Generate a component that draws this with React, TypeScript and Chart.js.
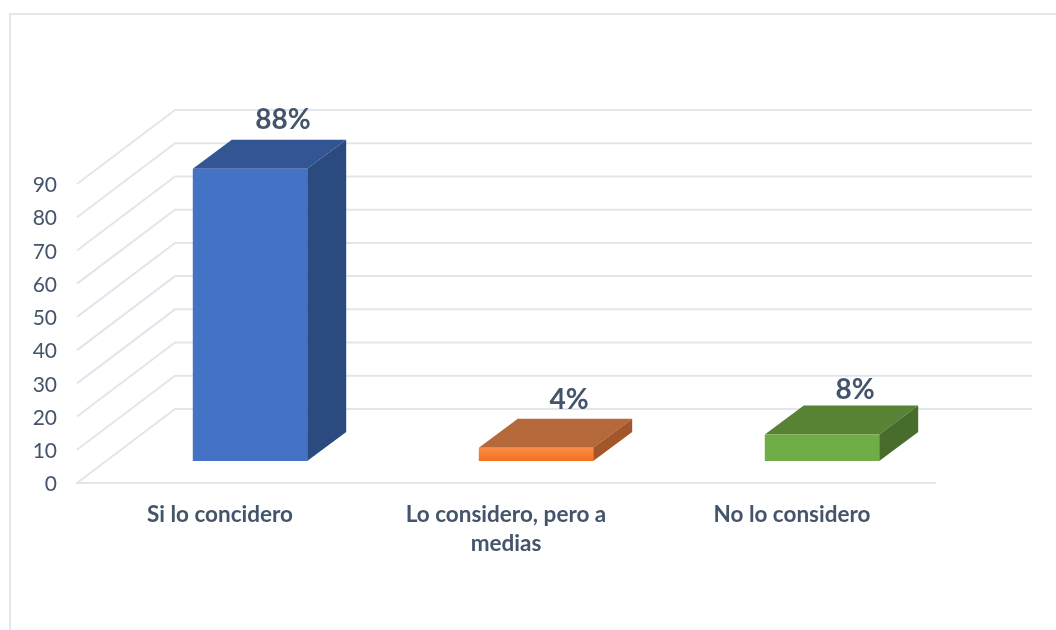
import React, { useEffect, useRef } from "react";
import { Chart, registerables } from "chart.js";

Chart.register(...registerables);

const categories: (string | string[])[] = ["Si lo concidero", ["Lo considero, pero a", "medias"], "No lo considero"];
const values = [88, 4, 8];
const valueLabels = ["88%", "4%", "8%"];
const frontColors = ["#4472c4", "#f47b2c", "#70ad47"];
const topColors = ["#335593", "#b5683a", "#588234"];
const sideColors = ["#2b4a80", "#a2562a", "#486c2b"];
const yTicks = [0, 10, 20, 30, 40, 50, 60, 70, 80, 90];

const INK = "#44546a";
const GRID = "#e2e5ec";
const FONT = "Lato, 'Open Sans', sans-serif";
const WALL_DX = 98;
const WALL_DY = -74;
const BAR_DX = 30;
const BAR_DY = -22;
const DEPTH_DX = 39;
const DEPTH_DY = -29;
const LABEL_DX = 33;
const LABEL_DY = [-49, -48, -44];

const face = (ctx: CanvasRenderingContext2D, pts: number[][], fill: string | CanvasGradient) => {
  ctx.beginPath();
  pts.forEach(([x, y], i) => (i ? ctx.lineTo(x, y) : ctx.moveTo(x, y)));
  ctx.closePath();
  ctx.fillStyle = fill;
  ctx.fill();
};

const box3d = {
  id: "box3d",
  beforeDatasetsDraw(chart: any) {
    const { ctx, scales } = chart;
    const { x, y } = scales;
    ctx.save();
    // wall and back-plane grid lines
    ctx.strokeStyle = GRID;
    ctx.lineWidth = 2;
    yTicks.forEach((t) => {
      const py = y.getPixelForValue(t);
      ctx.beginPath();
      ctx.moveTo(x.left, py);
      ctx.lineTo(x.left + WALL_DX, py + WALL_DY);
      ctx.lineTo(x.right + WALL_DX - 1, py + WALL_DY);
      ctx.stroke();
    });
    ctx.restore();

    ctx.save();
    ctx.translate(BAR_DX, BAR_DY);
    // depth faces come from the bar elements that the library laid out
    chart.getDatasetMeta(0).data.forEach((bar: any, i: number) => {
      const { x: cx, y: top, base, width } = bar.getProps(["x", "y", "base", "width"], true);
      const l = cx - width / 2;
      const r = cx + width / 2;
      face(ctx, [[l, top], [r, top], [r + DEPTH_DX, top + DEPTH_DY], [l + DEPTH_DX, top + DEPTH_DY]], topColors[i]);
      face(ctx, [[r, top], [r + DEPTH_DX, top + DEPTH_DY], [r + DEPTH_DX, base + DEPTH_DY], [r, base]], sideColors[i]);
    });
  },
  afterDatasetsDraw(chart: any) {
    const { ctx } = chart;
    ctx.restore();
    ctx.save();
    ctx.font = `bold 28px ${FONT}`;
    ctx.fillStyle = INK;
    ctx.textAlign = "center";
    ctx.textBaseline = "middle";
    chart.getDatasetMeta(0).data.forEach((bar: any, i: number) => {
      const { x: cx, y: top } = bar.getProps(["x", "y"], true);
      ctx.fillText(valueLabels[i], cx + BAR_DX + LABEL_DX, top + BAR_DY + LABEL_DY[i]);
    });
    ctx.restore();
  },
};

export default function App() {
  const ref = useRef<HTMLCanvasElement>(null);
  useEffect(() => {
    const chart = new Chart(ref.current!, {
      type: "bar",
      data: {
        labels: categories as any,
        datasets: [
          {
            data: values,
            clip: false as any,
            categoryPercentage: 1,
            barPercentage: 0.4,
            borderWidth: 0,
            backgroundColor: (c: any) => {
              if (c.dataIndex !== 1 || !c.chart.scales.y) return frontColors[c.dataIndex];
              const s = c.chart.scales.y;
              const g = c.chart.ctx.createLinearGradient(0, s.getPixelForValue(values[1]), 0, s.getPixelForValue(0));
              g.addColorStop(0, "#fb8d45");
              g.addColorStop(1, "#f2701f");
              return g;
            },
          },
        ],
      },
      plugins: [box3d],
      options: {
        animation: false,
        responsive: false,
        devicePixelRatio: 1,
        layout: { padding: { left: 0, top: 184, right: 121, bottom: 0 } },
        plugins: { legend: { display: false }, tooltip: { enabled: false } },
        scales: {
          x: {
            afterFit: (s: any) => { s.height = 147; },
            grid: { display: false, drawTicks: false },
            border: { display: true, color: GRID, width: 2 },
            ticks: {
              color: INK,
              padding: 17,
              maxRotation: 0,
              autoSkip: false,
              font: { family: FONT, size: 22.5, weight: "bold", lineHeight: 1.29 },
            },
          },
          y: {
            min: 0,
            max: 90,
            afterFit: (s: any) => { s.width = 77; },
            afterBuildTicks: (s: any) => { s.ticks = yTicks.map((value) => ({ value })); },
            grid: { display: false, drawTicks: false },
            border: { display: false },
            ticks: { color: INK, padding: 20, labelOffset: 1.5, font: { family: FONT, size: 21 } },
          },
        },
      } as any,
    });
    return () => chart.destroy();
  }, []);
  return (
    <div style={{ position: "absolute", left: 0, top: 0, width: 1056, height: 630, overflow: "hidden", background: "#fff" }}>
      <div style={{ position: "absolute", left: 9, top: 13, width: 1100, height: 700, border: "2px solid #e2e5ec" }} />
      <canvas ref={ref} width={1056} height={630} style={{ position: "absolute", left: 0, top: 0, display: "block" }} />
    </div>
  );
}
